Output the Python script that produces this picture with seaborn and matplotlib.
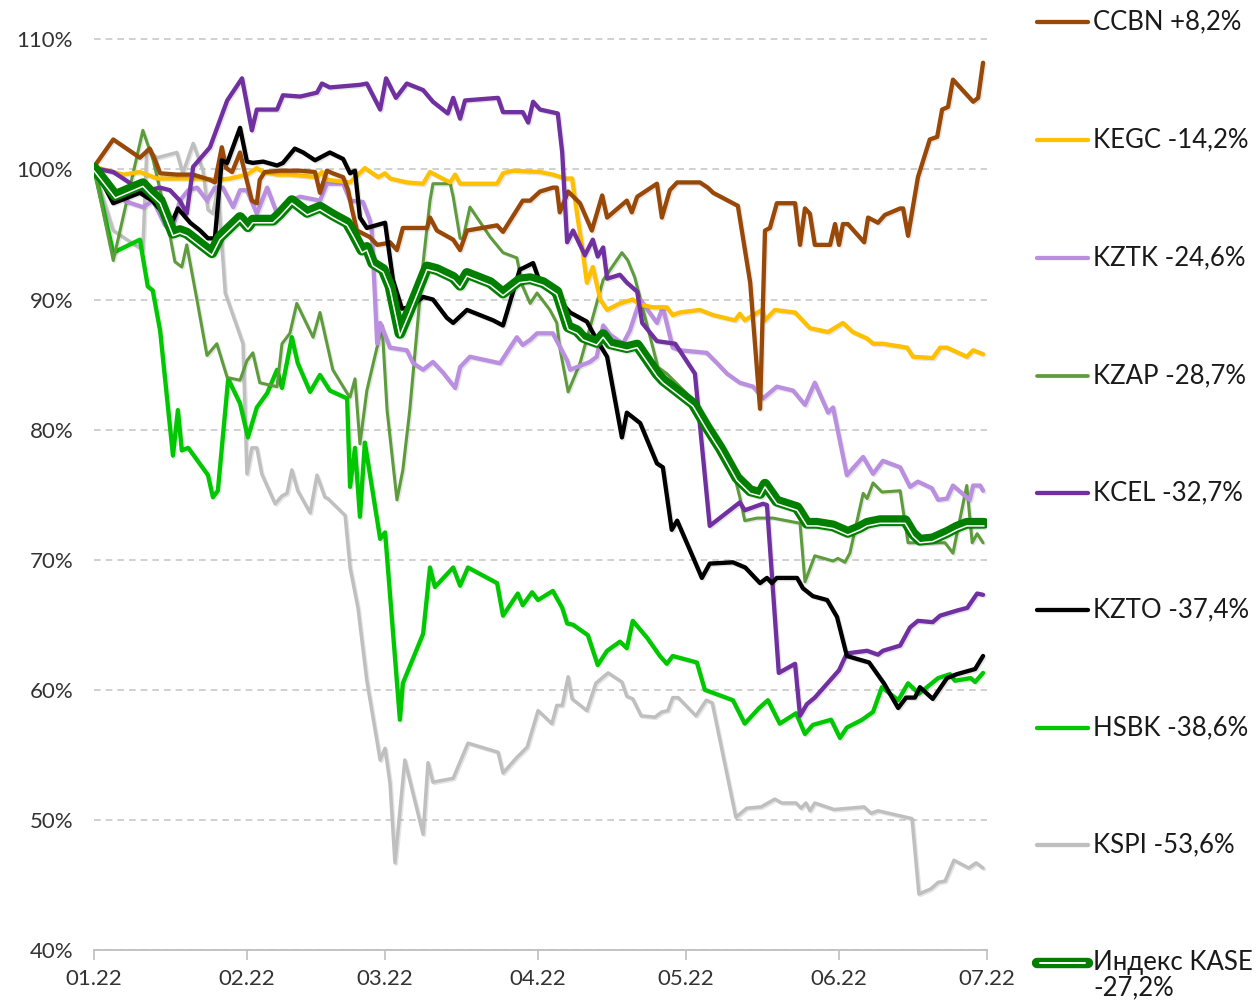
import numpy as np
import pandas as pd
import matplotlib
matplotlib.use("Agg")
import matplotlib.pyplot as plt
import matplotlib.dates as mdates
import matplotlib.patheffects as pe
from matplotlib.lines import Line2D
import seaborn as sns

sns.set_theme(style="white")
plt.rcParams["font.family"] = ["Lato", "DejaVu Sans"]

START = pd.Timestamp("2022-01-01")
END = pd.Timestamp("2022-07-01")

# ---------------- data (day offset from 01.01.2022, % of start) ----------------
ccbn_day = [0, 3.9, 9.3, 11.3, 12.4, 13.4, 16.8, 20.1, 23.5, 24.5, 25.9, 26.8, 28.0, 29.6, 30.6, 32.0, 33.0, 33.6, 34.6, 37.7,
            41.8, 44.8, 45.8, 47.2, 48.4, 50.5, 51.5, 52.3, 53.3, 55.9, 57.4, 59.0, 60.0, 61.4, 62.6, 67.5, 68.1, 69.5, 72.8, 74.2,
            75.6, 81.7, 82.9, 86.9, 88.4, 90.4, 93.0, 93.8, 94.4, 96.1, 98.5, 100.9, 103.0, 104.0, 108.0, 109.0, 110.1, 114.1, 115.1, 116.7,
            118.2, 122.8, 124.4, 125.5, 130.5, 133.0, 135.0, 136.0, 137.0, 138.4, 142.1, 143.1, 144.1, 145.1, 146.1, 149.2, 150.2, 151.0, 151.8, 152.8,
            156.1, 156.9, 158.9, 160.3, 163.4, 164.0, 165.0, 167.0, 169.4, 170.9, 171.9, 173.1, 174.1, 178.2, 179.2, 180.2]
ccbn_val = [100.2, 102.3, 100.9, 101.6, 100.7, 99.7, 99.6, 99.6, 99.2, 99.0, 101.7, 100.1, 99.8, 101.3, 99.7, 97.6, 97.4, 99.2, 99.8, 99.9,
            99.9, 99.8, 98.2, 99.9, 99.7, 99.4, 98.4, 96.9, 95.3, 94.8, 94.2, 94.3, 94.4, 93.8, 95.5, 95.5, 96.3, 95.3, 94.6, 93.8,
            95.3, 95.7, 95.2, 97.6, 97.6, 98.3, 98.6, 98.6, 96.7, 98.3, 97.4, 95.3, 98.0, 96.3, 97.6, 96.7, 97.9, 98.9, 96.3, 98.4,
            99.0, 99.0, 98.6, 98.2, 97.2, 91.3, 81.6, 95.3, 95.5, 97.4, 97.4, 94.2, 97.0, 96.6, 94.2, 94.2, 95.8, 94.2, 95.8, 95.8,
            94.4, 96.3, 95.9, 96.5, 97.0, 97.0, 94.9, 99.4, 102.3, 102.5, 104.6, 104.8, 106.9, 105.2, 105.5, 108.2]

kegc_day = [0, 5.9, 9.3, 12.8, 22.1, 24.9, 27.6, 31.0, 33.0, 34.3, 37.1, 39.7, 45.2, 46.2, 47.2, 51.9, 54.9, 57.6, 59.0, 60.0,
            63.4, 66.7, 68.1, 70.1, 72.2, 73.2, 74.2, 81.7, 82.9, 84.9, 90.4, 93.0, 95.5, 96.9, 97.9, 99.1, 99.9, 101.1, 102.6, 104.0,
            106.6, 109.2, 110.7, 113.3, 116.1, 117.3, 118.7, 122.8, 125.5, 129.9, 130.9, 131.9, 135.4, 136.0, 138.0, 142.1, 145.1, 148.8, 151.8, 153.8,
            156.7, 157.9, 159.9, 164.8, 166.0, 170.0, 171.5, 172.9, 176.9, 178.2, 180.2]
kegc_val = [100.2, 99.6, 99.8, 99.3, 99.3, 99.2, 99.3, 99.6, 100.1, 99.8, 99.6, 99.6, 99.4, 99.8, 99.2, 99.0, 100.1, 99.4, 99.7, 99.3,
            99.0, 98.9, 99.8, 99.4, 99.0, 99.6, 98.9, 98.9, 99.7, 99.9, 99.8, 99.6, 99.3, 99.3, 96.6, 93.6, 91.3, 92.5, 90.0, 89.2,
            89.7, 90.0, 89.6, 89.4, 89.4, 88.8, 89.0, 89.2, 88.8, 88.4, 88.9, 88.4, 89.2, 88.4, 89.2, 89.0, 87.8, 87.5, 88.2, 87.5,
            87.0, 86.6, 86.6, 86.3, 85.6, 85.5, 86.3, 86.3, 85.6, 86.1, 85.8]

kztk_day = [0, 4.3, 6.7, 9.9, 12.0, 14.4, 15.8, 17.4, 19.1, 20.9, 22.9, 24.5, 26.1, 28.2, 29.6, 31.0, 33.0, 35.1, 37.1, 39.7,
            41.8, 45.8, 47.2, 50.5, 51.9, 54.5, 55.9, 56.3, 57.4, 58.0, 60.0, 63.4, 64.7, 66.7, 68.7, 70.7, 73.2, 74.2, 76.2, 82.3,
            85.7, 86.9, 88.4, 89.8, 93.0, 95.9, 96.5, 100.5, 101.9, 103.2, 104.6, 107.2, 108.6, 110.7, 114.1, 115.3, 117.3, 118.7, 124.2, 126.3,
            128.3, 130.9, 133.6, 135.6, 138.4, 141.7, 144.1, 146.1, 148.8, 149.8, 152.6, 155.9, 157.9, 159.9, 163.4, 165.4, 167.0, 169.8, 171.1, 172.9,
            174.1, 177.5, 178.2, 179.6, 180.2]
kztk_val = [100.1, 98.1, 97.5, 97.1, 97.6, 95.7, 95.3, 97.6, 98.4, 98.6, 97.6, 98.6, 98.6, 97.1, 98.4, 98.4, 96.6, 98.6, 96.6, 97.6,
            97.9, 97.6, 98.9, 98.9, 97.6, 97.5, 96.1, 95.3, 86.6, 88.2, 86.3, 86.1, 85.1, 84.6, 85.2, 84.4, 83.2, 84.8, 85.6, 85.1,
            87.1, 86.5, 86.9, 87.4, 87.4, 85.3, 84.6, 85.2, 85.6, 88.0, 87.3, 86.6, 87.6, 90.0, 88.2, 89.4, 86.3, 86.1, 85.9, 85.1,
            84.3, 83.6, 83.3, 82.4, 83.3, 83.0, 81.9, 83.6, 81.3, 81.7, 76.5, 77.9, 76.6, 77.6, 77.1, 75.6, 76.0, 75.5, 74.6, 74.7,
            75.7, 74.6, 75.7, 75.7, 75.3]

kzap_day = [0, 3.9, 9.9, 12.0, 14.8, 16.4, 17.8, 18.8, 20.9, 22.9, 24.9, 27.0, 29.6, 31.0, 32.2, 33.6, 37.1, 38.1, 39.7, 41.1,
            44.4, 45.8, 48.4, 51.3, 51.9, 52.9, 53.9, 55.3, 58.4, 59.4, 61.4, 62.6, 64.0, 66.7, 68.1, 68.7, 72.2, 72.8, 74.2, 74.8,
            76.2, 80.3, 82.9, 85.7, 86.9, 88.4, 89.8, 92.4, 93.8, 94.4, 96.1, 98.5, 103.2, 107.0, 108.2, 109.6, 114.3, 116.1, 121.4, 124.2,
            125.5, 129.5, 130.9, 131.9, 134.4, 137.6, 143.1, 144.1, 146.1, 149.8, 150.8, 152.2, 153.2, 155.9, 156.7, 157.9, 159.7, 163.4, 165.0, 172.5,
            174.1, 176.9, 178.0, 179.0, 180.2]
kzap_val = [100.1, 93.0, 103.0, 100.7, 96.1, 92.9, 92.5, 94.2, 89.9, 85.7, 86.6, 84.0, 83.8, 85.3, 85.9, 83.6, 83.3, 86.6, 87.4, 89.7,
            87.1, 89.0, 84.6, 82.8, 82.5, 83.9, 78.9, 83.0, 88.0, 81.5, 74.6, 76.9, 81.5, 92.8, 97.6, 98.9, 98.9, 97.9, 94.7, 94.7,
            97.1, 94.8, 93.6, 93.2, 91.0, 89.7, 90.5, 89.2, 88.2, 86.3, 82.9, 85.1, 91.5, 93.6, 93.0, 91.7, 84.8, 84.3, 82.3, 80.5,
            79.7, 76.9, 74.8, 73.0, 73.2, 73.2, 72.8, 68.3, 70.3, 69.9, 70.1, 69.8, 70.5, 75.1, 74.7, 75.9, 75.2, 75.3, 71.3, 71.3,
            70.5, 75.7, 71.3, 72.0, 71.3]

kcel_day = [0, 3.9, 9.9, 13.4, 15.4, 17.4, 18.8, 20.1, 23.5, 27.0, 30.0, 32.0, 33.0, 37.1, 38.3, 41.8, 45.2, 46.2, 47.8, 53.9,
            55.3, 58.0, 59.2, 61.2, 63.4, 66.7, 68.7, 71.7, 72.8, 74.2, 75.2, 81.9, 82.9, 86.9, 88.0, 89.0, 90.4, 94.0, 94.9, 95.9,
            97.1, 99.5, 101.1, 102.1, 103.2, 104.0, 106.6, 108.0, 110.1, 111.1, 114.1, 117.8, 121.8, 124.8, 130.9, 131.9, 135.6, 136.4, 138.8, 142.1,
            143.1, 144.5, 146.1, 151.0, 152.6, 156.7, 158.9, 159.9, 163.4, 165.4, 167.0, 170.0, 171.5, 175.0, 177.0, 179.0, 180.2]
kcel_val = [100.1, 99.8, 98.3, 98.6, 98.4, 97.6, 96.6, 100.2, 101.7, 105.3, 107.0, 103.0, 104.6, 104.6, 105.7, 105.6, 105.9, 106.6, 106.3, 106.5,
            106.6, 104.6, 107.0, 105.5, 106.6, 106.1, 105.2, 104.3, 105.5, 103.9, 105.3, 105.5, 104.4, 104.4, 103.6, 105.2, 104.6, 104.3, 101.3, 94.4,
            95.3, 93.4, 94.6, 93.3, 94.0, 91.6, 91.9, 91.3, 90.6, 88.2, 86.8, 86.6, 84.3, 72.6, 74.4, 73.8, 74.3, 74.2, 61.3, 62.0,
            58.0, 58.9, 59.4, 61.5, 62.8, 63.0, 62.7, 63.0, 63.4, 64.8, 65.3, 65.2, 65.7, 66.1, 66.3, 67.4, 67.3]

kzto_day = [0, 3.9, 9.3, 11.8, 14.8, 16.0, 17.0, 19.5, 21.5, 23.1, 24.5, 25.9, 27.0, 29.6, 31.0, 32.2, 34.3, 37.1, 38.3, 40.7,
            42.4, 44.8, 47.8, 50.5, 51.9, 52.9, 53.9, 55.3, 59.0, 60.6, 62.4, 64.0, 66.7, 68.7, 71.5, 72.8, 75.6, 80.9, 82.9, 86.3,
            86.9, 89.0, 90.4, 93.0, 96.5, 99.9, 101.9, 104.0, 107.0, 108.0, 110.7, 114.1, 115.3, 117.1, 118.2, 121.4, 123.2, 124.8, 129.5, 132.0,
            135.0, 136.4, 137.4, 138.4, 142.5, 143.7, 145.7, 148.6, 150.6, 152.6, 157.1, 160.1, 163.0, 164.6, 166.4, 167.4, 170.0, 172.9, 174.9, 178.6, 180.2]
kzto_val = [100.2, 97.4, 98.2, 97.6, 96.3, 96.1, 97.0, 95.9, 95.3, 94.7, 94.7, 100.7, 100.5, 103.2, 100.6, 100.5, 100.6, 100.3, 100.5, 101.6,
            101.3, 100.7, 101.3, 100.8, 99.7, 99.9, 96.3, 95.5, 95.9, 91.5, 89.3, 89.4, 90.2, 90.0, 88.6, 88.2, 89.2, 88.4, 88.0, 92.3,
            92.4, 92.8, 91.3, 90.5, 89.0, 88.3, 86.9, 85.6, 79.4, 81.3, 80.5, 77.4, 77.1, 72.3, 73.0, 70.2, 68.6, 69.7, 69.8, 69.4,
            68.2, 68.6, 68.2, 68.6, 68.6, 67.8, 67.2, 66.9, 65.6, 62.6, 62.1, 60.5, 58.6, 59.4, 59.4, 60.2, 59.3, 60.9, 61.2, 61.6, 62.6]

hsbk_day = [0, 3.9, 9.3, 10.9, 11.9, 13.4, 16.0, 17.0, 17.8, 19.1, 23.1, 24.1, 25.1, 27.2, 29.6, 31.2, 33.0, 35.1, 37.1, 38.1,
            40.1, 41.3, 43.8, 45.8, 47.8, 51.3, 51.9, 52.9, 53.9, 54.9, 58.0, 59.0, 62.0, 62.6, 66.7, 68.1, 69.1, 72.8, 74.2, 75.8,
            81.7, 82.9, 85.9, 86.9, 88.8, 90.0, 93.0, 94.9, 95.9, 97.1, 100.1, 102.1, 104.0, 106.6, 108.0, 109.2, 112.1, 114.7, 116.1, 117.3,
            122.2, 123.8, 129.5, 131.9, 134.8, 136.6, 139.0, 142.3, 144.1, 145.7, 149.4, 151.2, 152.6, 155.7, 157.9, 159.7, 163.0, 165.0, 167.2, 171.1,
            173.5, 174.5, 177.7, 178.6, 180.2]
hsbk_val = [100.1, 93.6, 94.6, 91.0, 90.7, 87.6, 78.0, 81.5, 78.4, 78.6, 76.5, 74.8, 75.3, 83.9, 82.0, 79.4, 81.7, 82.8, 84.6, 83.2,
            87.1, 85.1, 82.9, 84.2, 83.0, 82.4, 75.6, 78.6, 73.3, 79.0, 71.6, 72.1, 57.7, 60.5, 64.3, 69.4, 67.9, 69.4, 68.0, 69.4,
            68.2, 65.7, 67.4, 66.5, 67.5, 66.9, 67.6, 66.3, 65.1, 65.0, 64.2, 61.9, 63.0, 63.7, 63.2, 65.3, 64.0, 62.6, 62.0, 62.6,
            62.1, 60.0, 59.2, 57.4, 58.6, 59.2, 57.4, 58.2, 56.6, 57.3, 57.7, 56.3, 57.1, 57.7, 58.3, 60.2, 59.2, 60.5, 59.7, 60.9,
            61.2, 60.7, 60.9, 60.6, 61.3]

kspi_day = [0, 3.9, 9.9, 10.7, 12.8, 16.8, 18.0, 20.1, 22.1, 23.1, 24.1, 25.1, 26.6, 29.0, 30.2, 31.0, 32.0, 33.0, 34.0, 36.7,
            38.1, 39.1, 40.1, 41.3, 43.8, 45.2, 46.8, 47.4, 50.9, 51.9, 53.5, 55.3, 58.0, 59.0, 60.0, 61.0, 63.0, 66.7, 67.7, 68.7,
            72.8, 75.8, 81.9, 82.9, 85.7, 87.8, 90.0, 92.8, 93.8, 94.9, 96.1, 96.9, 99.9, 101.7, 104.2, 107.0, 108.0, 109.2, 110.9, 113.7,
            115.1, 116.3, 117.3, 118.4, 122.0, 124.1, 125.3, 130.1, 132.3, 135.2, 138.0, 139.4, 142.3, 143.3, 144.3, 145.1, 146.1, 150.0, 156.1, 157.5,
            158.9, 165.8, 167.2, 169.6, 171.1, 172.5, 174.3, 177.3, 178.8, 180.2]
kspi_val = [100.0, 95.3, 93.8, 101.5, 100.9, 101.3, 99.7, 102.0, 99.9, 96.9, 96.6, 98.6, 90.5, 87.9, 86.6, 76.6, 78.6, 78.6, 76.6, 74.3,
            74.9, 75.1, 76.9, 75.3, 73.6, 76.5, 74.8, 74.7, 73.4, 69.4, 66.3, 60.7, 54.6, 55.5, 52.8, 46.7, 54.6, 48.9, 54.4, 52.9,
            53.2, 55.9, 55.2, 53.6, 54.8, 55.6, 58.4, 57.4, 58.8, 58.8, 61.0, 59.3, 58.4, 60.5, 61.3, 60.6, 59.5, 59.3, 58.0, 57.9,
            58.3, 58.4, 59.4, 59.4, 58.0, 59.2, 59.0, 50.2, 50.9, 51.0, 51.6, 51.3, 51.3, 50.9, 51.3, 50.7, 51.3, 50.8, 51.0, 50.5,
            50.7, 50.1, 44.3, 44.7, 45.2, 45.3, 46.9, 46.3, 46.7, 46.3]

kase_day = [0, 4.3, 9.9, 11.4, 13.4, 16.0, 17.4, 18.8, 21.5, 23.9, 25.5, 29.6, 31.2, 32.2, 36.3, 37.7, 40.1, 43.2, 45.8, 48.4,
            51.3, 52.5, 54.3, 55.3, 56.5, 58.6, 60.0, 62.0, 64.0, 67.5, 69.5, 72.8, 74.2, 75.6, 80.3, 82.9, 86.3, 88.4, 91.0, 93.8,
            96.1, 97.9, 99.1, 101.9, 103.2, 104.6, 108.0, 110.1, 114.1, 115.3, 118.7, 121.4, 124.2, 126.9, 130.3, 133.0, 135.0, 136.0, 138.4, 142.5,
            144.5, 146.5, 149.8, 152.8, 155.3, 156.7, 159.3, 164.4, 166.0, 167.4, 170.0, 172.9, 174.9, 176.9, 180.4]
kase_val = [100.1, 98.0, 98.9, 98.3, 97.6, 95.1, 95.3, 95.1, 94.3, 93.6, 94.8, 96.3, 95.6, 96.1, 96.1, 96.6, 97.6, 96.7, 97.1, 96.5,
            95.9, 95.1, 93.8, 94.0, 92.8, 92.3, 91.0, 87.4, 89.2, 92.5, 92.3, 91.7, 91.1, 92.0, 91.3, 90.5, 91.5, 91.6, 91.3, 90.6,
            87.9, 87.6, 87.1, 86.7, 87.3, 86.6, 86.3, 86.5, 84.3, 83.8, 82.8, 82.0, 80.2, 78.6, 76.3, 75.3, 75.1, 75.8, 74.5, 74.0,
            72.8, 72.8, 72.6, 72.1, 72.5, 72.8, 73.0, 73.0, 72.0, 71.5, 71.6, 72.1, 72.5, 72.8, 72.8]

names = ["CCBN", "KEGC", "KZTK", "KZAP", "KCEL", "KZTO", "HSBK", "KSPI", "KASE"]
labels = ["CCBN +8,2%", "KEGC -14,2%", "KZTK -24,6%", "KZAP -28,7%", "KCEL -32,7%",
          "KZTO -37,4%", "HSBK -38,6%", "KSPI -53,6%", "Индекс KASE\n-27,2%"]
days = [ccbn_day, kegc_day, kztk_day, kzap_day, kcel_day, kzto_day, hsbk_day, kspi_day, kase_day]
vals = [ccbn_val, kegc_val, kztk_val, kzap_val, kcel_val, kzto_val, hsbk_val, kspi_val, kase_val]

colors = {"CCBN": "#984807", "KEGC": "#FFC000", "KZTK": "#BB8FE0", "KZAP": "#5E9B3C",
          "KCEL": "#7030A0", "KZTO": "#000000", "HSBK": "#00C800", "KSPI": "#BFBFBF", "KASE": "#007F00"}
widths = {"CCBN": 3.1, "KEGC": 3.1, "KZTK": 3.1, "KZAP": 2.2, "KCEL": 3.1,
          "KZTO": 3.1, "HSBK": 3.1, "KSPI": 2.5, "KASE": 7.8}

frames = []
for n, d, v in zip(names, days, vals):
    frames.append(pd.DataFrame({"date": START + pd.to_timedelta(np.array(d), unit="D"),
                                "value": v, "series": n}))
df = pd.concat(frames, ignore_index=True)

# ---------------- figure ----------------
W, H = 1258, 1005
fig = plt.figure(figsize=(W / 100, H / 100), dpi=100)
ax = fig.add_axes([94 / W, 55 / H, 893 / W, 937 / H])

shadow = [pe.SimpleLineShadow(offset=(1.0, -1.0), shadow_color="#000000", alpha=0.10), pe.Normal()]

draw_order = ["KSPI", "HSBK", "KZAP", "KZTK", "KEGC", "CCBN", "KCEL", "KZTO", "KASE"]
for n in draw_order:
    sub = df[df["series"] == n]
    sns.lineplot(data=sub, x="date", y="value", ax=ax, color=colors[n], lw=widths[n],
                 estimator=None, sort=False, legend=False,
                 solid_joinstyle="round", solid_capstyle="round", path_effects=shadow, zorder=3)
    if n == "KASE":
        sns.lineplot(data=sub, x="date", y="value", ax=ax, color="white", lw=1.1,
                     estimator=None, sort=False, legend=False, solid_joinstyle="round",
                     path_effects=[pe.Stroke(offset=(0, -1.9), linewidth=1.1, foreground="white")],
                     zorder=4)

ax.set_xlim(START, END)
ax.set_ylim(40, 40 + 937 / 13.01)
ax.set_xlabel("")
ax.set_ylabel("")

ax.set_yticks(np.arange(40, 111, 10))
ax.set_yticklabels([f"{int(t)}%" for t in np.arange(40, 111, 10)])
ax.xaxis.set_major_locator(mdates.MonthLocator())
ax.xaxis.set_major_formatter(mdates.DateFormatter("%m.%y"))

txt_color = "#333333"
ax.tick_params(axis="y", length=0, pad=15, labelsize=16, labelcolor=txt_color)
ax.tick_params(axis="x", length=7, width=1.2, color="#bfbfbf", pad=7, labelsize=16,
               labelcolor=txt_color, direction="out", bottom=True)

ax.grid(False)
ax.yaxis.grid(True, linestyle=(0, (4, 3)), color="#c8c8c8", lw=1.2)
ax.set_axisbelow(True)
for s in ["left", "right", "top"]:
    ax.spines[s].set_visible(False)
ax.spines["bottom"].set_color("#bfbfbf")
ax.spines["bottom"].set_linewidth(1.3)

# ---------------- legend (manual, right column) ----------------
leg_y = [22, 140, 258, 376, 493, 610, 728, 845, 963]
x0, x1, xt = 1037 / W, 1088 / W, 1093 / W
for n, lab, yp in zip(names, labels, leg_y):
    yf = 1 - yp / H
    if n == "KASE":
        fig.add_artist(Line2D([x0, x1], [yf, yf], transform=fig.transFigure, color=colors[n],
                              lw=7.5, solid_capstyle="round"))
        fig.add_artist(Line2D([x0 + 0.002, x1 - 0.002], [yf, yf], transform=fig.transFigure,
                              color="white", lw=1.4, solid_capstyle="round"))
        fig.text(xt, 1 - 950 / H, lab, ha="left", va="top", fontsize=18.5, color="#1a1a1a",
                 linespacing=1.0)
    else:
        fig.add_artist(Line2D([x0, x1], [yf, yf], transform=fig.transFigure, color=colors[n],
                              lw=3.1 if n != "KZAP" else 2.7, solid_capstyle="round"))
        fig.text(xt, yf, lab, ha="left", va="center", fontsize=18.5, color="#1a1a1a")

fig.savefig("out.png", dpi=100, facecolor="white")
